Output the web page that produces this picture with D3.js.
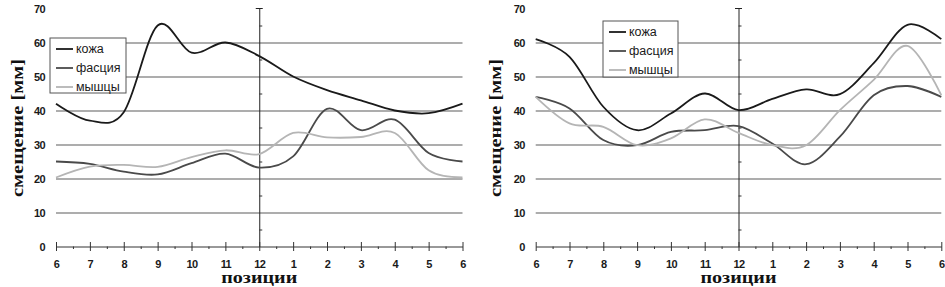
<!DOCTYPE html>
<html>
<head>
<meta charset="utf-8">
<script src="https://cdn.jsdelivr.net/npm/d3@7"></script>
<style>
  body { margin:0; background:#fff; }
  svg { display:block; }
  .lbl text { font-family:"Liberation Sans", Arial, sans-serif; font-weight:bold; font-size:11px; fill:#1a1a1a; letter-spacing:-0.6px; }
  .legend text { font-family:"Liberation Sans", Arial, sans-serif; font-size:12.5px; fill:#1a1a1a; }
  .title { font-family:"Liberation Serif", "Times New Roman", serif; font-weight:bold; fill:#111; }
</style>
</head>
<body>
<svg id="chart" width="945" height="287"></svg>
<script>
// positions on the clock face
const positions = ["6","7","8","9","10","11","12","1","2","3","4","5","6"];
const yTicks = [0,10,20,30,40,50,60,70];
const seriesNames = ["кожа","фасция","мышцы"];

const COLOR = {
  "кожа":"#1a1a1a",
  "фасция":"#4a4a4a",
  "мышцы":"#b5b5b5"
};

// left chart
const skinL   = [42, 37, 39.5, 65, 57, 60, 56, 50, 46, 43, 40, 39.2, 42];
const fasciaL = [25, 24.3, 22, 21.2, 24.5, 27.3, 23.2, 26.5, 40.5, 34.2, 37.3, 27.5, 25];
const muscleL = [20.3, 23.5, 24, 23.4, 26.3, 28.3, 27.2, 33.4, 32.1, 32.2, 33.4, 22.4, 20.3];

// right chart
const skinR   = [61, 55.8, 41.1, 34.2, 39.1, 45, 40.1, 43.4, 46.2, 44.8, 53.9, 65.2, 61];
const fasciaR = [44, 40.6, 31.3, 29.8, 33.7, 34.2, 35.4, 30.3, 24.2, 32.3, 44.5, 47.2, 44];
const muscleR = [44, 36.2, 35.2, 29.8, 31.8, 37.4, 33.4, 29.8, 29.8, 40.1, 49, 59, 44.5];

const panels = [
  {x0:56, x1:462.5, data:[skinL, fasciaL, muscleL], legend:{x:50, y:38, w:76, h:55}, titleX:23},
  {x0:535.7, x1:941.3, data:[skinR, fasciaR, muscleR], legend:{x:603, y:21, w:75, h:56}, titleX:501}
];

const svg = d3.select("#chart");

const y = d3.scaleLinear()
  .domain([0,70])
  .range([246.5, 8.5]);

panels.forEach(p=>{

  const x = d3.scaleLinear()
    .domain([0, positions.length - 1])
    .range([p.x0, p.x1]);

  const g = svg.append("g");

  // grid
  g.append("g")
    .attr("transform", `translate(${p.x0},0)`)
    .call(d3.axisLeft(y).tickValues([10,20,30,40,50,60]).tickSize(-(p.x1 - p.x0)).tickFormat(""))
    .call(s=>s.select(".domain").remove())
    .call(s=>s.selectAll("line").attr("stroke","#5c5c5c").attr("stroke-width",1.2));

  // y labels on the left
  g.append("g")
    .attr("class","lbl")
    .attr("transform", `translate(${p.x0 - 11},0)`)
    .call(d3.axisLeft(y).tickValues(yTicks).tickSize(0).tickPadding(0))
    .call(s=>s.select(".domain").remove());

  // vertical axis at 12
  const xMid = x(6);
  g.append("g")
    .attr("transform", `translate(${xMid},0)`)
    .call(d3.axisRight(y).tickValues(d3.range(5,70,10)).tickSize(3).tickFormat("").tickSizeOuter(0))
    .call(s=>s.select(".domain").attr("stroke","#222"))
    .call(s=>s.selectAll("line").attr("stroke","#333"));
  g.append("line")
    .attr("x1", xMid - 3.5).attr("x2", xMid + 3.5)
    .attr("y1", y(70)).attr("y2", y(70))
    .attr("stroke","#222");

  // x axis: minor ticks then major ticks with labels
  g.append("g")
    .attr("transform", `translate(0,${y(0)})`)
    .call(d3.axisBottom(x).tickValues(d3.range(0.5, 12, 1)).tickSize(2.5).tickFormat("").tickSizeOuter(0))
    .call(s=>s.select(".domain").remove())
    .call(s=>s.selectAll("line").attr("stroke","#333"));

  g.append("g")
    .attr("class","lbl")
    .attr("transform", `translate(0,${y(0)})`)
    .call(d3.axisBottom(x).tickValues(d3.range(0,13)).tickSize(4.5).tickPadding(9)
      .tickFormat(i=>positions[i]).tickSizeOuter(0))
    .call(s=>s.select(".domain").attr("stroke","#333"))
    .call(s=>s.selectAll(".tick line").attr("y1",-4.5).attr("stroke","#333"));

  // series
  const line = d3.line()
    .x((d,i)=>x(i))
    .y(d=>y(d))
    .curve(d3.curveCardinal.tension(0));

  p.data.forEach((vals, k)=>{
    g.append("path")
      .datum(vals)
      .attr("fill","none")
      .attr("stroke", COLOR[seriesNames[k]])
      .attr("stroke-width",1.8)
      .attr("d", line);
  });

  // legend
  const lg = g.append("g")
    .attr("class","legend")
    .attr("transform", `translate(${p.legend.x},${p.legend.y})`);

  lg.append("rect")
    .attr("width", p.legend.w)
    .attr("height", p.legend.h)
    .attr("fill","#fff")
    .attr("stroke","#555");

  seriesNames.forEach((name, k)=>{
    const cy = 11 + k*19;
    lg.append("line")
      .attr("x1",6).attr("x2",23)
      .attr("y1",cy).attr("y2",cy)
      .attr("stroke", COLOR[name])
      .attr("stroke-width",1.8);
    lg.append("text")
      .attr("x",26)
      .attr("y",cy)
      .attr("dy","0.35em")
      .text(name);
  });

  // titles
  svg.append("text")
    .attr("class","title")
    .attr("transform", `translate(${p.titleX},128) rotate(-90)`)
    .attr("text-anchor","middle")
    .attr("font-size",17.5)
    .attr("textLength",138)
    .attr("lengthAdjust","spacingAndGlyphs")
    .text("смещение [мм]");

  svg.append("text")
    .attr("class","title")
    .attr("x", (p.x0 + p.x1)/2)
    .attr("y", 283)
    .attr("text-anchor","middle")
    .attr("font-size",16)
    .attr("textLength",76)
    .attr("lengthAdjust","spacingAndGlyphs")
    .text("позиции");
});
</script>
</body>
</html>
